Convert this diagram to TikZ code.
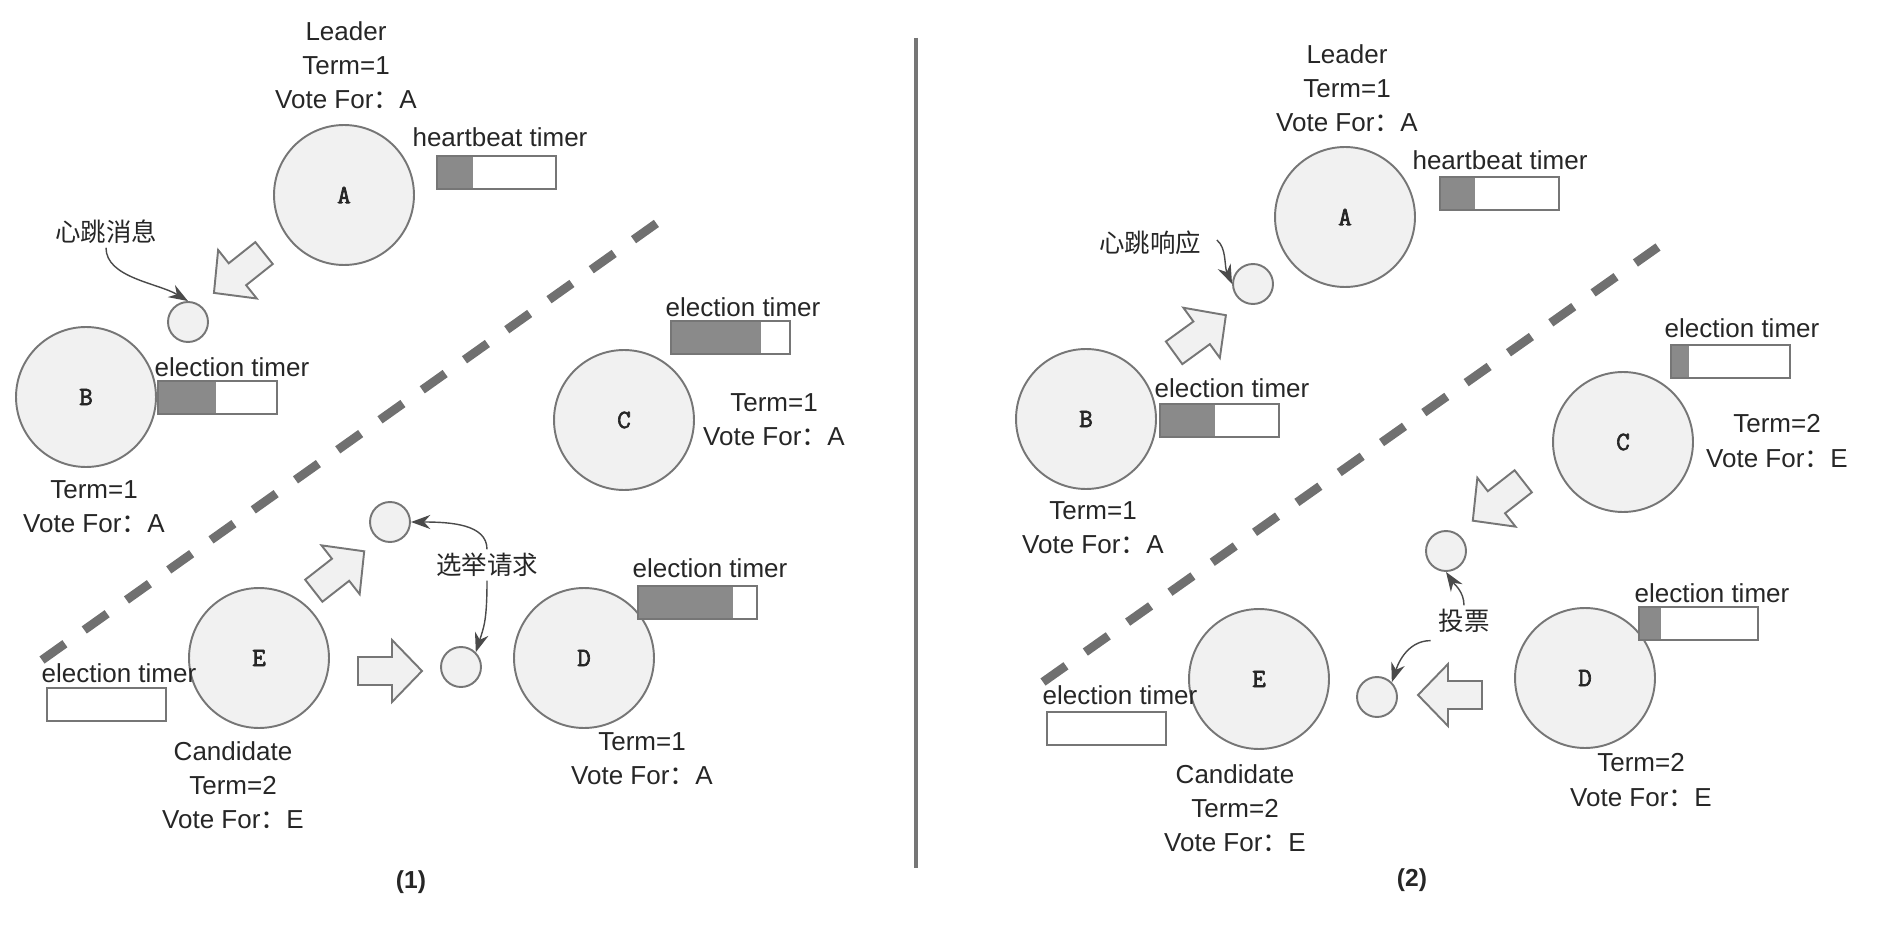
\documentclass[tikz,border=0pt]{standalone}
\usepackage{fontspec}
\setmainfont{Liberation Sans}
\newfontfamily\cjk{Noto Sans CJK SC}
\newfontfamily\srvfont[AutoFakeBold=2.5]{Latin Modern Mono}
\usetikzlibrary{arrows.meta,calc}

\definecolor{ringgray}{HTML}{767676}
\definecolor{ballfill}{HTML}{F1F1F1}
\definecolor{txtgray}{HTML}{262626}
\definecolor{timerdark}{HTML}{8A8A8A}
\definecolor{dashgray}{HTML}{707070}
\definecolor{notegray}{HTML}{4A4A4A}

\newcommand{\votefor}[1]{Vote For{\cjk ：}#1}
% block arrow: centre x, centre y, direction
\newcommand{\blockarrow}[3]{%
  \draw[bigarrow, shift={(#1,#2)}, rotate=#3]
    (-32,-14) -- (2,-14) -- (2,-31) -- (32,0) -- (2,31) -- (2,14) -- (-32,14) -- cycle;}
% timer bar: left, top, elapsed width
\newcommand{\timerbar}[3]{%
  \fill[timerdark] (#1,#2) rectangle ++(#3,33);
  \draw[timerline] (#1,#2) rectangle ++(119,33);}

\begin{document}
\begin{tikzpicture}[x=0.02cm, y=-0.02cm,
    server/.style={circle, draw=ringgray, fill=ballfill, line width=1.1pt,
      minimum size=2.8cm, inner sep=0pt, text=txtgray,
      font=\srvfont\bfseries\fontsize{15}{17}\selectfont},
    packet/.style={circle, draw=ringgray, fill=ballfill, line width=1.1pt,
      minimum size=0.8cm, inner sep=0pt},
    lbl/.style={align=center, text=txtgray, inner sep=2pt,
      font=\fontsize{14.8}{19.5}\selectfont},
    zh/.style={text=txtgray, inner sep=2pt, font=\cjk\fontsize{14.5}{17}\selectfont},
    bigarrow/.style={draw=ringgray, fill=ballfill, line width=1.1pt, line join=miter},
    note/.style={-{Stealth[length=11pt,width=8pt]}, draw=notegray, line width=0.8pt},
    timerline/.style={draw=ringgray, line width=0.9pt},
    splitline/.style={draw=dashgray, line width=5pt, dash pattern=on 16pt off 13.5pt},
  ]
  \useasboundingbox (0,0) rectangle (1886,932);

  % Divider between the two stages
  \draw[ringgray, line width=2.2pt] (916,38) -- (916,868);

  % ---- Stage (1) ----
  % Partition
  \draw[splitline] (42,660) -- (657,223);

  % Servers
  \node[server] (A1) at (344,195) {A};
  \node[server] (B1) at (86,397) {B};
  \node[server] (C1) at (624,420) {C};
  \node[server] (D1) at (584,658) {D};
  \node[server] (E1) at (259,658) {E};

  % Messages
  \node[packet] (s1) at (188,322) {};
  \node[packet] (s2) at (390,522) {};
  \node[packet] (s3) at (461,667) {};
  \blockarrow{239}{273}{218.5}
  \blockarrow{339}{571}{38}
  \blockarrow{390}{671}{0}

  % Timers
  \timerbar{437}{156}{36}
  \timerbar{158}{381}{58}
  \timerbar{671}{321}{90}
  \timerbar{638}{586}{95}
  \timerbar{47}{688}{0}

  % Labels
  \node[lbl] (roleA1) at (346,65) {Leader\\Term=1\\\votefor{A}};
  \node[lbl] (hbA1) at (500,137) {heartbeat timer};
  \node[lbl] (etB1) at (232,367) {election timer};
  \node[lbl] (termB1) at (94,507) {Term=1\\\votefor{A}};
  \node[lbl] (etC1) at (743,307) {election timer};
  \node[lbl] (termC1) at (774,420) {Term=1\\\votefor{A}};
  \node[lbl] (etD1) at (710,568) {election timer};
  \node[lbl] (termD1) at (642,759) {Term=1\\\votefor{A}};
  \node[lbl] (etE1) at (119,673) {election timer};
  \node[lbl] (roleE1) at (233,785) {Candidate\\Term=2\\\votefor{E}};
  \node[zh] (msg1) at (106,232) {心跳消息};
  \node[zh] (req1) at (487,565) {选举请求};
  \node[lbl, font=\bfseries\fontsize{14}{17}\selectfont] (cap1) at (411,882) {(1)};

  \draw[note] (msg1.south) .. controls +(0,30) and +(-30,-18) .. (s1.north);
  \draw[note] (req1.north) .. controls +(0,-25) and +(40,0) .. (s2.east);
  \draw[note] (req1.south) .. controls +(0,40) and +(8,-25) .. (s3.north east);

  % ---- Stage (2) ----
  % Partition
  \draw[splitline] (1043,682) -- (1658,247);

  % Servers
  \node[server] (A2) at (1345,217) {A};
  \node[server] (B2) at (1086,419) {B};
  \node[server] (C2) at (1623,442) {C};
  \node[server] (D2) at (1585,678) {D};
  \node[server] (E2) at (1259,679) {E};

  % Messages
  \node[packet] (s4) at (1253,284) {};
  \node[packet] (s5) at (1446,551) {};
  \node[packet] (s6) at (1377,697) {};
  \blockarrow{1200}{334}{36}
  \blockarrow{1498}{501}{218}
  \blockarrow{1450}{695}{180}

  % Timers
  \timerbar{1440}{177}{35}
  \timerbar{1160}{404}{55}
  \timerbar{1671}{345}{18}
  \timerbar{1639}{607}{22}
  \timerbar{1047}{712}{0}

  % Labels
  \node[lbl] (roleA2) at (1347,88) {Leader\\Term=1\\\votefor{A}};
  \node[lbl] (hbA2) at (1500,160) {heartbeat timer};
  \node[lbl] (etB2) at (1232,388) {election timer};
  \node[lbl] (termB2) at (1093,528) {Term=1\\\votefor{A}};
  \node[lbl] (etC2) at (1742,328) {election timer};
  \node[lbl] (termC2) at (1777,441) {Term=2\\\votefor{E}};
  \node[lbl] (etD2) at (1712,593) {election timer};
  \node[lbl] (termD2) at (1641,780) {Term=2\\\votefor{E}};
  \node[lbl] (etE2) at (1120,695) {election timer};
  \node[lbl] (roleE2) at (1235,808) {Candidate\\Term=2\\\votefor{E}};
  \node[zh] (resp2) at (1150,243) {心跳响应};
  \node[zh] (vote2) at (1464,621) {投票};
  \node[lbl, font=\bfseries\fontsize{14}{17}\selectfont] (cap2) at (1412,880) {(2)};

  \draw[note] ($(resp2.east)+(12,-3)$) .. controls +(10,8) and +(-8,-18) .. (s4.west);
  \draw[note] (vote2.north) .. controls +(0,-14) and +(8,12) .. (s5.south);
  \draw[note] ($(vote2.south west)+(-4,4)$) .. controls +(-25,0) and +(5,-15) .. (s6.north east);
\end{tikzpicture}
\end{document}
